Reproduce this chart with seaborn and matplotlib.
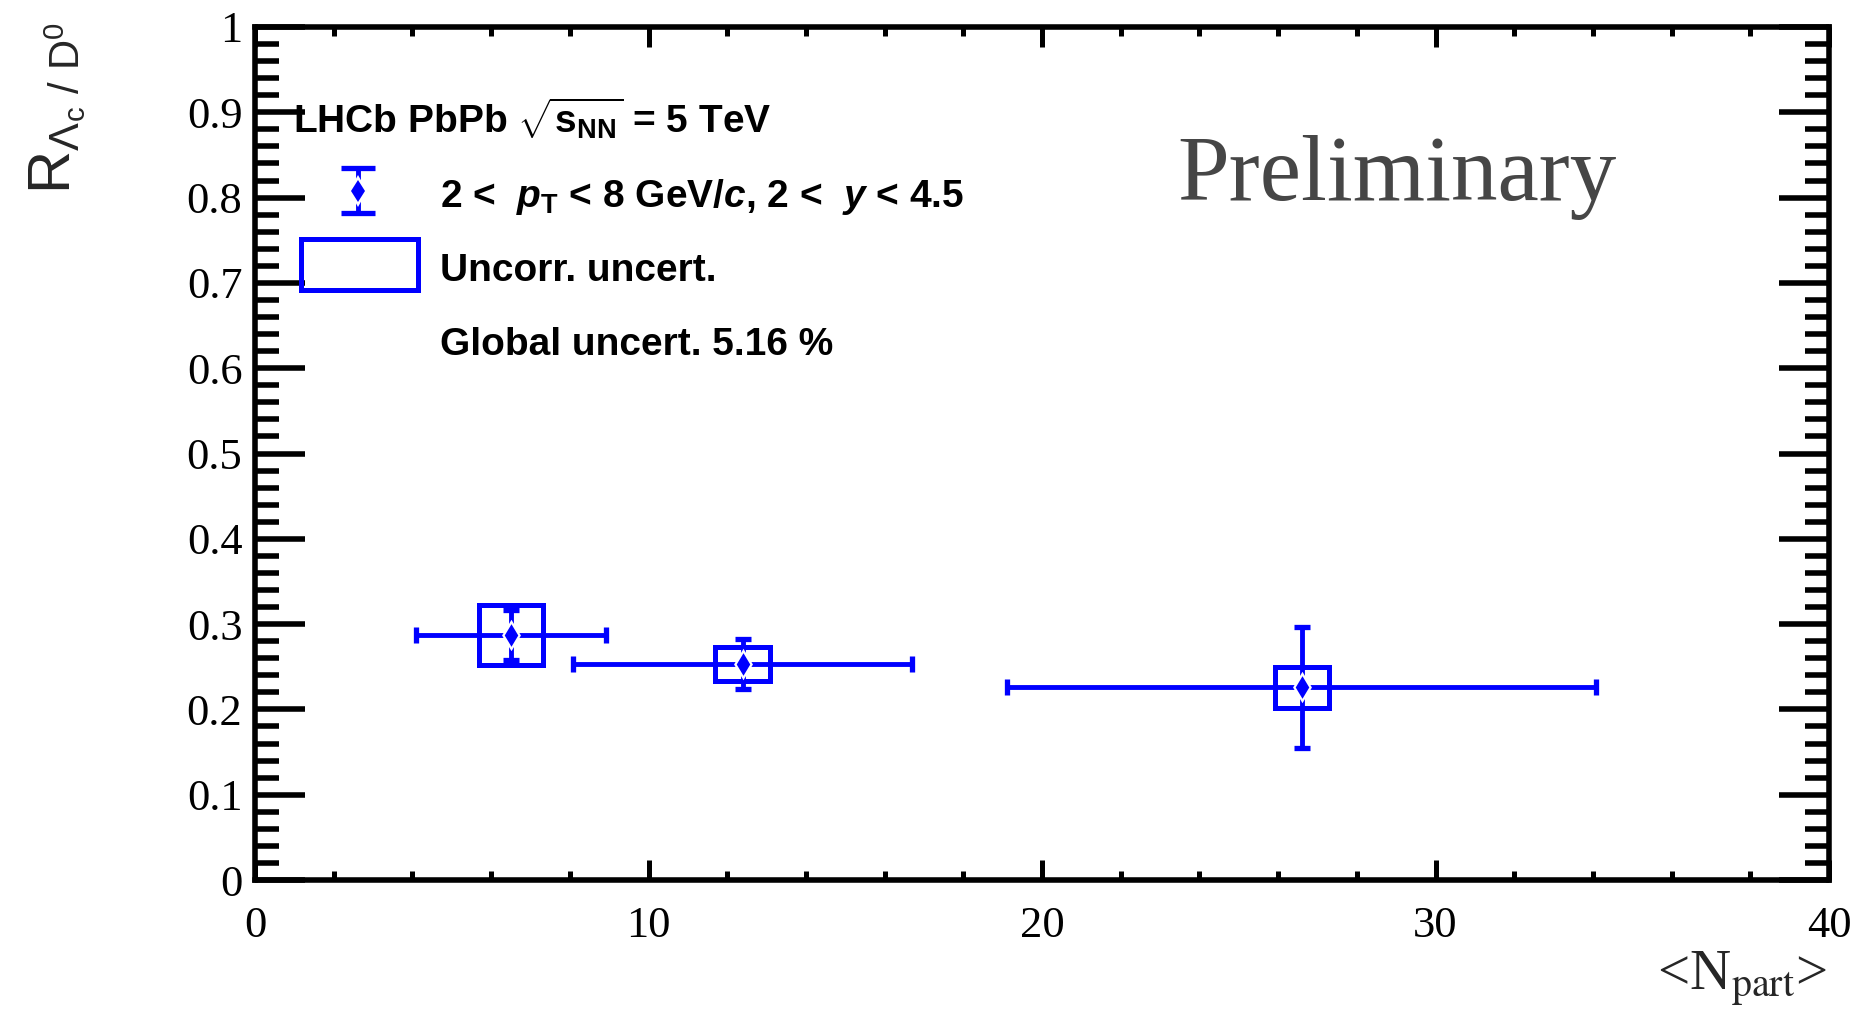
import matplotlib
matplotlib.use("Agg")
import matplotlib.pyplot as plt
import seaborn as sns
import pandas as pd
from matplotlib.patches import Rectangle
from matplotlib.ticker import MultipleLocator, FixedLocator, FixedFormatter

# ---------------- data ----------------
npart = [6.51, 12.40, 26.61]
npart_low = [4.09, 8.08, 19.10]
npart_high = [8.92, 16.70, 34.08]
ratio = [0.287, 0.253, 0.226]
stat_err = [0.029, 0.029, 0.071]
uncorr_err = [0.035, 0.020, 0.024]
box_halfwidth = [0.82, 0.70, 0.685]

xticks = [0, 10, 20, 30, 40]
xtick_labels = ["0", "10", "20", "30", "40"]
yticks = [0, 0.1, 0.2, 0.3, 0.4, 0.5, 0.6, 0.7, 0.8, 0.9, 1.0]
ytick_labels = ["0", "0.1", "0.2", "0.3", "0.4", "0.5", "0.6", "0.7", "0.8", "0.9", "1"]

header_text = r"LHCb PbPb $\sqrt{\mathbf{s}_{\mathbf{NN}}}$ = 5 TeV"
entry_points = r"2 <  $\mathit{p}_{\mathbf{T}}$ < 8 GeV/$\mathit{c}$, 2 <  $\mathit{y}$ < 4.5"
entry_boxes = "Uncorr. uncert."
entry_global = "Global uncert. 5.16 %"
watermark = "Preliminary"
xlabel = r"<N$_{\mathrm{part}}$>"
ylabel = r"$\mathrm{R}_{\Lambda_{\mathrm{c}}\ /\ \mathrm{D}^{0}}$"

df = pd.DataFrame({"npart": npart, "ratio": ratio})

# ---------------- style ----------------
sns.set_theme(style="ticks")
plt.rcParams.update({
    "font.family": ["Liberation Serif", "DejaVu Serif"],
    "mathtext.fontset": "custom",
    "mathtext.rm": "Liberation Sans",
    "mathtext.bf": "Liberation Sans:bold",
    "mathtext.it": "Liberation Sans:italic:bold",
    "axes.linewidth": 4.0,
    "axes.edgecolor": "black",
    "text.color": "black",
})

BLUE = (0.0, 0.0, 1.0)

fig = plt.figure(figsize=(18.54, 10.15), dpi=100)
ax = fig.add_axes([255 / 1854, 135 / 1015, 1574 / 1854, 853 / 1015])
ax.set_facecolor("white")

# uncorrelated uncertainty boxes
for xc, yc, hw, e in zip(npart, ratio, box_halfwidth, uncorr_err):
    ax.add_patch(Rectangle((xc - hw, yc - e), 2 * hw, 2 * e, fill=False,
                           edgecolor=BLUE, linewidth=3.6, zorder=3))

# error bars
xerr = [[c - lo for c, lo in zip(npart, npart_low)],
        [hi - c for c, hi in zip(npart, npart_high)]]
ax.errorbar(npart, ratio, xerr=xerr, yerr=stat_err, fmt="none", ecolor=BLUE,
            elinewidth=3.5, capsize=6, capthick=3.8, zorder=4)

# white halo + markers
ax.scatter(npart, ratio, marker="d", s=16.0 ** 2, color="white", linewidths=0, zorder=5)
sns.scatterplot(data=df, x="npart", y="ratio", marker="d", s=11.5 ** 2,
                color=BLUE, linewidth=0, ax=ax, zorder=6, legend=False)

# ---------------- axes ----------------
ax.set_xlim(0, 40)
ax.set_ylim(0, 1)
ax.xaxis.set_major_locator(FixedLocator(xticks))
ax.xaxis.set_major_formatter(FixedFormatter(xtick_labels))
ax.xaxis.set_minor_locator(MultipleLocator(2))
ax.yaxis.set_major_locator(FixedLocator(yticks))
ax.yaxis.set_major_formatter(FixedFormatter(ytick_labels))
ax.yaxis.set_minor_locator(MultipleLocator(0.02))

ax.tick_params(which="both", direction="in", top=True, right=True, colors="black")
ax.tick_params(axis="y", which="major", length=36, width=4.0, labelsize=32, pad=9)
ax.tick_params(axis="y", which="minor", length=17, width=4.0)
ax.tick_params(axis="x", which="major", length=14.5, width=3.6, labelsize=32, pad=19)
ax.tick_params(axis="x", which="minor", length=6.5, width=3.6)
for lab in ax.get_xticklabels() + ax.get_yticklabels():
    lab.set_fontfamily("Liberation Serif")

for s in ax.spines.values():
    s.set_visible(True)
    s.set_linewidth(4.0)
    s.set_color("black")

ax.set_xlabel(xlabel, fontsize=41, family="Liberation Serif", math_fontfamily="stix")
ax.xaxis.set_label_coords(0.9987, -0.129)
ax.xaxis.label.set_horizontalalignment("right")
ax.xaxis.label.set_verticalalignment("baseline")

ax.set_ylabel(ylabel, fontsize=43, family="Liberation Sans", math_fontfamily="custom")
ax.yaxis.set_label_coords(-0.1255, 0.905)
ax.yaxis.label.set_horizontalalignment("center")
ax.yaxis.label.set_verticalalignment("center")
ax.yaxis.label.set_rotation_mode("default")

# ---------------- legend (drawn ROOT-style) ----------------
tkw = dict(transform=ax.transAxes, fontsize=28, family="Liberation Sans",
           fontweight="bold", math_fontfamily="custom", va="baseline", ha="left",
           zorder=10)
ax.text(0.0241, 0.8757, header_text, **tkw)
ax.text(0.1175, 0.7890, entry_points, **tkw)
ax.text(0.1175, 0.7022, entry_boxes, **tkw)
ax.text(0.1175, 0.6155, entry_global, **tkw)

lx, ly0, ly1 = 0.0654, 0.7819, 0.8347
lyc = 0.5 * (ly0 + ly1)
ax.plot([lx, lx], [ly0, ly1], color=BLUE, lw=3.5, transform=ax.transAxes, zorder=8)
ax.plot([lx, lx], [ly0, ly1], ls="none", marker="_", ms=24, mew=3.8, color=BLUE,
        transform=ax.transAxes, zorder=8)
ax.plot([lx], [lyc], ls="none", marker="d", ms=16, mew=0, color="white",
        transform=ax.transAxes, zorder=9)
ax.plot([lx], [lyc], ls="none", marker="d", ms=11.5, mew=0, color=BLUE,
        transform=ax.transAxes, zorder=9)
ax.add_patch(Rectangle((0.0295, 0.6917), 0.0741, 0.0598, fill=False, edgecolor=BLUE,
                       linewidth=3.6, transform=ax.transAxes, zorder=8))

ax.text(0.5858, 0.797, watermark, transform=ax.transAxes, fontsize=67,
        family="Liberation Serif", color="#464646", ha="left", va="baseline")

fig.savefig("out.png", dpi=100)
